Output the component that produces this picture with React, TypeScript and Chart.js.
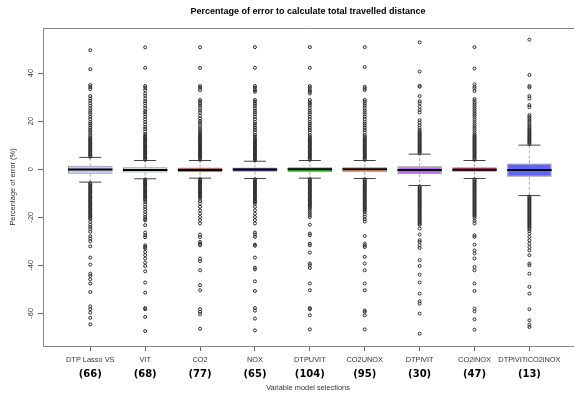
import React, { useEffect, useRef } from "react";
import { Chart, registerables } from "chart.js";

Chart.register(...registerables);

const categories = ["DTP Lasso VS", "VIT", "CO2", "NOX", "DTPUVIT", "CO2UNOX", "DTPiVIT", "CO2iNOX", "DTPiVITiCO2iNOX"];
const counts = ["(66)", "(68)", "(77)", "(65)", "(104)", "(95)", "(30)", "(47)", "(13)"];
const yTicks = [-60, -40, -20, 0, 20, 40];

const q1 = [-1.9, -1.4, -1.25, -1.1, -1.25, -1.25, -2.1, -1.1, -3.2];
const medians = [-0.1, -0.3, -0.3, -0.1, 0, 0, -0.3, -0.2, -0.4];
const q3 = [1.4, 0.8, 0.7, 0.7, 0.8, 0.8, 1.25, 0.8, 2.4];
const whiskerLow = [-5.4, -4.0, -3.75, -3.9, -3.75, -3.9, -6.8, -3.9, -11.0];
const whiskerHigh = [4.9, 3.6, 3.6, 3.3, 3.6, 3.6, 6.25, 3.6, 10.0];

const boxColors = ["#c6c6f2", "#c4e2c4", "#b31e1e", "#5a1cae", "#33cc33", "#e8a878", "#b06ef0", "#c2125e", "#6262fc"];

const outDTPLasso = [
  49.5, 41.6, 35, 34.2, 33.3, 30.4, 29.4, 28.5, 27.4, 26.4, 25.3, 24.4, 23.6, 22.8, 21.8, 20.8, 19.7, 18.9, 18.1, 17.2, 16.3, 15.6, 14.7, 13.9, 13.1,
  5.2, 5.7, 6.2, 6.7, 7.2, 7.7, 8.2, 8.7, 9.2, 9.7, 10.2, 10.7, 11.2, 11.7, 12.2, 12.7,
  -5.8, -6.3, -6.8, -7.3, -7.8, -8.3, -8.8, -9.3, -9.8, -10.3, -10.8, -11.3, -11.8, -12.3, -12.8, -13.3, -13.8, -14.3, -14.8, -15.3, -15.8, -16.3, -16.8, -17.3, -17.8, -18.3, -18.8, -19.3, -19.8, -20.3,
  -20.8, -21.9, -23.1, -24, -25, -26.1, -27.9, -28.9, -30, -32.1, -36.8, -39.7, -43.5, -44.4, -45.8, -47.6, -51.1, -57.1, -58.3, -59.7, -61.9, -64.6,
];
const outVIT = [
  50.7, 42.2, 34.6, 33.9, 32.9, 31.5, 30.6, 29.4, 28.3, 27.4, 26.4, 25.3, 24.2, 23.6, 22.8, 21.8, 20.7, 19.7, 18.6, 17.6, 16.7, 15.6, 14.6,
  3.9, 4.4, 4.9, 5.4, 5.9, 6.4, 6.9, 7.4, 7.9, 8.4, 8.9, 9.4, 9.9, 10.4, 10.9, 11.4, 11.9, 12.4, 12.9, 13.4, 13.9,
  -4.3, -4.8, -5.3, -5.8, -6.3, -6.8, -7.3, -7.8, -8.3, -8.8, -9.3, -9.8, -10.3, -10.8, -11.3, -11.8, -12.3, -12.8,
  -13.6, -14.6, -15.7, -16.7, -17.8, -18.9, -19.9, -20.8, -21.3,
  -23.3, -26.4, -27.5, -28.3, -31.7, -32.4, -33, -34.4, -35.8, -37.2, -38.9, -40.3, -42.5, -47.2, -51.4, -57.8, -58.3, -61.5, -67.4,
];
const outCO2 = [
  50.7, 42.2, 34.6, 33.9, 32.9, 28.8, 28.1, 27.2, 26.4, 25.3, 24.4, 23.6, 22.2, 21.1, 20.1, 19.4, 18.6, 17.6, 16.7, 15.8, 15,
  3.9, 4.4, 4.9, 5.4, 5.9, 6.4, 6.9, 7.4, 7.9, 8.4, 8.9, 9.4, 9.9, 10.4, 10.9, 11.4, 11.9, 12.4, 12.9, 13.4, 13.9, 14.4,
  -4.1, -4.6, -5.1, -5.6, -6.1, -6.6, -7.1, -7.6, -8.1, -8.6, -9.1, -9.6, -10.1, -10.6, -11.1, -11.6,
  -12.2, -13.3, -14.3, -15.7, -17.1, -18.5, -19.9, -21.2, -22.6,
  -27.2, -28.2, -30.3, -31, -31.7, -37.2, -38.3, -42.1, -48.3, -50.4, -58.3, -59.4, -60.4, -66.4,
];
const outNOX = [
  50.8, 42.2, 34.6, 33.9, 32.9, 32.2, 28.8, 28.1, 27.2, 26.4, 25.3, 24.4, 23.6, 22.8, 21.8, 20.8, 19.7, 18.9, 18.1, 17.2, 16.3, 15.3, 14.2, 13.5,
  3.6, 4.1, 4.6, 5.1, 5.6, 6.1, 6.6, 7.1, 7.6, 8.1, 8.6, 9.1, 9.6, 10.1, 10.6, 11.1, 11.6, 12.1, 12.6,
  -4.2, -4.7, -5.2, -5.7, -6.2, -6.7, -7.2, -7.7, -8.2, -8.7, -9.2, -9.7, -10.2, -10.7, -11.2, -11.7, -12.2, -12.7, -13.2, -13.7,
  -14.4, -15.7, -17.1, -18.5, -19.9, -21.2, -22.6,
  -26.4, -27.2, -28.2, -31.4, -31.9, -36.8, -41, -41.7, -46.7, -50.7, -57.8, -58.9, -62.2, -67.1,
];
const outDTPUVIT = [
  50.8, 42.2, 34.6, 33.9, 32.9, 32.2, 31.5, 28.8, 27.8, 27.2, 26.4, 25.3, 24.4, 23.6, 22.8, 21.8, 20.8, 19.7, 18.9, 18.1, 17.2, 16.3, 15.3, 14.2,
  3.9, 4.4, 4.9, 5.4, 5.9, 6.4, 6.9, 7.4, 7.9, 8.4, 8.9, 9.4, 9.9, 10.4, 10.9, 11.4, 11.9, 12.4, 12.9, 13.4,
  -4.1, -4.6, -5.1, -5.6, -6.1, -6.6, -7.1, -7.6, -8.1, -8.6, -9.1, -9.6, -10.1, -10.6, -11.1, -11.6, -12.1, -12.6, -13.1, -13.6, -14.1, -14.6, -15.1, -15.6, -16.1,
  -16.8, -17.6, -18.4, -19.2, -20,
  -23.1, -26.8, -27.5, -31, -31.7, -34.7, -39.3, -40, -41.1, -47.6, -50.4, -57.8, -58.3, -60.8, -66.7,
];
const outCO2UNOX = [
  50.8, 42.5, 34.3, 33.6, 32.9, 28.8, 28.1, 27.2, 26.4, 25.3, 24.4, 23.6, 22.8, 21.8, 20.8, 19.7, 18.9, 18.1, 17.2, 16.3, 15.3, 14.2,
  3.9, 4.4, 4.9, 5.4, 5.9, 6.4, 6.9, 7.4, 7.9, 8.4, 8.9, 9.4, 9.9, 10.4, 10.9, 11.4, 11.9, 12.4, 12.9, 13.4,
  -4.2, -4.7, -5.2, -5.7, -6.2, -6.7, -7.2, -7.7, -8.2, -8.7, -9.2, -9.7, -10.2, -10.7, -11.2, -11.7, -12.2, -12.7, -13.2, -13.7, -14.2, -14.7, -15.2, -15.7, -16.2, -16.7, -17.2,
  -17.8, -18.8, -19.8, -20.8, -21.8,
  -27.8, -31, -31.7, -32.4, -36.5, -39.3, -42.1, -47.6, -50.4, -58.8, -59.4, -60.8, -66.7,
];
const outDTPiVIT = [
  52.8, 40.6, 34.7, 34.3, 30.4, 28.3, 27.4, 26, 24.6, 23.6, 20.4, 19.4, 18.3, 17.2, 16.3,
  6.6, 7.1, 7.6, 8.1, 8.6, 9.1, 9.6, 10.1, 10.6, 11.1, 11.6, 12.1, 12.6, 13.1, 13.6, 14.1, 14.6, 15.1, 15.6,
  -7.2, -7.7, -8.2, -8.7, -9.2, -9.7, -10.2, -10.7, -11.2, -11.7, -12.2, -12.7, -13.2, -13.7, -14.2, -14.7, -15.2, -15.7, -16.2, -16.7, -17.2, -17.7, -18.2, -18.7, -19.2, -19.7, -20.2, -20.7, -21.2, -21.7, -22.2, -22.7, -23.2,
  -24.7, -27.2, -29.6, -30.3, -31.7, -32.8, -37.9, -40.3, -43.9, -47.2, -51.8, -55, -56, -60.1, -68.5,
];
const outCO2iNOX = [
  50.8, 41.9, 35.3, 34.3, 33.6, 32.5, 29.2, 28.5, 27.6, 26.8, 26, 25.1, 24.2, 23.3, 22.5, 21.6, 20.7, 19.8, 18.9, 18, 17.1, 16.2, 15.3, 14.5,
  3.9, 4.4, 4.9, 5.4, 5.9, 6.4, 6.9, 7.4, 7.9, 8.4, 8.9, 9.4, 9.9, 10.4, 10.9, 11.4, 11.9, 12.4, 12.9, 13.4, 13.9,
  -4.2, -4.7, -5.2, -5.7, -6.2, -6.7, -7.2, -7.7, -8.2, -8.7, -9.2, -9.7, -10.2, -10.7, -11.2, -11.7, -12.2, -12.7, -13.2, -13.7, -14.2, -14.7, -15.2, -15.7, -16.2, -16.7, -17.2, -17.7, -18.2, -18.7, -19.2, -19.7,
  -20.5, -21.5, -22.6,
  -27.5, -28.2, -31.4, -33.8, -35.1, -37.2, -40.7, -42.1, -47.6, -50.7, -58, -59.2, -62.5, -66.8,
];
const outDTPiVITiCO2iNOX = [
  53.9, 39.2, 34.6, 34, 30.4, 29.4, 26.7, 25.8, 22.5, 21.8, 21.1, 20.4, 19.7, 19, 18.3, 17.6, 17,
  10.4, 10.9, 11.4, 11.9, 12.4, 12.9, 13.4, 13.9, 14.4, 14.9, 15.4, 15.9, 16.4,
  -11.4, -11.9, -12.4, -12.9, -13.4, -13.9, -14.4, -14.9, -15.4, -15.9, -16.4, -16.9, -17.4, -17.9, -18.4, -18.9, -19.4, -19.9, -20.4, -20.9, -21.4, -21.9, -22.4, -22.9, -23.4, -23.9, -24.4, -24.9,
  -25.8, -26.8,
  -28.2, -29.6, -31, -32.4, -33.8, -35.8, -39.3, -40, -43.5, -49, -51.8, -58.3, -62.9, -64.7, -65.7,
];

const outliers = [outDTPLasso, outVIT, outCO2, outNOX, outDTPUVIT, outCO2UNOX, outDTPiVIT, outCO2iNOX, outDTPiVITiCO2iNOX];

const FONT = "'Liberation Sans', Arial, sans-serif";
const X_MIN = 0.139;
const X_MAX = 9.794;
const CAP_HALF = 0.2;
const BOX_HALF = 0.405;

export default function App() {
  const canvasRef = useRef<HTMLCanvasElement | null>(null);

  useEffect(() => {
    const canvas = canvasRef.current;
    if (!canvas) return;

    const pos = categories.map((_, i) => i + 1);
    const catTicks = (s: any) => {
      s.ticks = pos.map((v) => ({ value: v }));
    };

    const boxData = pos.map((x, i) => ({ x, y: [q1[i], q3[i]] }));
    const whiskerData: any[] = [];
    const capData: any[] = [];
    const medianData: any[] = [];
    const outlierData: any[] = [];
    pos.forEach((x, i) => {
      whiskerData.push({ x, y: q3[i] }, { x, y: whiskerHigh[i] }, { x, y: null }, { x, y: q1[i] }, { x, y: whiskerLow[i] }, { x, y: null });
      capData.push(
        { x: x - CAP_HALF, y: whiskerHigh[i] }, { x: x + CAP_HALF, y: whiskerHigh[i] }, { x, y: null },
        { x: x - CAP_HALF, y: whiskerLow[i] }, { x: x + CAP_HALF, y: whiskerLow[i] }, { x, y: null }
      );
      medianData.push({ x: x - BOX_HALF, y: medians[i] }, { x: x + BOX_HALF, y: medians[i] }, { x, y: null });
      outliers[i].forEach((v) => outlierData.push({ x, y: v }));
    });

    const chart = new Chart(canvas, {
      type: "bar",
      data: {
        datasets: [
          {
            type: "scatter",
            data: outlierData,
            pointRadius: 1.5,
            pointBorderWidth: 1,
            pointBorderColor: "#2a2a2a",
            pointBackgroundColor: "rgba(0,0,0,0)",
            order: 0,
          } as any,
          {
            type: "line",
            data: medianData,
            borderColor: "#000",
            borderWidth: 2,
            pointRadius: 0,
            spanGaps: false,
            order: 1,
          } as any,
          {
            type: "bar",
            data: boxData,
            backgroundColor: boxColors,
            borderColor: "#8a8a8a",
            borderWidth: 1,
            borderSkipped: false,
            barPercentage: 0.81,
            categoryPercentage: 1,
            order: 2,
          } as any,
          {
            type: "line",
            data: capData,
            borderColor: "#444",
            borderWidth: 1,
            pointRadius: 0,
            spanGaps: false,
            order: 3,
          } as any,
          {
            type: "line",
            data: whiskerData,
            borderColor: "#aaa",
            borderWidth: 1,
            borderDash: [3, 2],
            pointRadius: 0,
            spanGaps: false,
            order: 4,
          } as any,
        ],
      },
      options: {
        responsive: false,
        animation: false,
        devicePixelRatio: 1,
        layout: { padding: 0 },
        plugins: { legend: { display: false }, tooltip: { enabled: false }, title: { display: false } },
        scales: {
          x: {
            type: "linear",
            position: "bottom",
            offset: false,
            min: X_MIN,
            max: X_MAX,
            afterBuildTicks: catTicks,
            afterFit: (s: any) => { s.height = 20; },
            ticks: {
              callback: (v: any) => categories[Math.round(v) - 1] ?? "",
              font: { family: FONT, size: 7.4 },
              color: "#333",
              padding: 5,
              maxRotation: 0,
              minRotation: 0,
              autoSkip: false,
            },
            grid: { drawOnChartArea: false, drawTicks: true, tickLength: 5, color: "#666", offset: false },
            border: { display: true, color: "#888" },
          },
          x2: {
            type: "linear",
            position: "bottom",
            axis: "x",
            offset: false,
            min: X_MIN,
            max: X_MAX,
            afterBuildTicks: catTicks,
            afterFit: (s: any) => { s.height = 30; },
            ticks: {
              callback: (v: any) => counts[Math.round(v) - 1] ?? "",
              font: { family: "'DejaVu Sans', sans-serif", size: 10, weight: "bold" },
              color: "#000",
              padding: 2,
              maxRotation: 0,
              minRotation: 0,
              autoSkip: false,
            },
            grid: { display: false, drawTicks: false, offset: false },
            border: { display: false },
            title: {
              display: true,
              text: "Variable model selections",
              font: { family: FONT, size: 7.4 },
              color: "#333",
              padding: { top: 0, bottom: 3.6 },
            },
          },
          x3: {
            type: "linear",
            position: "top",
            axis: "x",
            offset: false,
            min: X_MIN,
            max: X_MAX,
            afterFit: (s: any) => { s.height = 28; },
            ticks: { display: false },
            grid: { display: false, drawTicks: false, offset: false },
            border: { display: true, color: "#888" },
            title: {
              display: true,
              text: "Percentage of error to calculate total travelled distance",
              font: { family: FONT, size: 9, weight: "bold" },
              color: "#000",
              padding: { top: 6.6, bottom: 0 },
            },
          },
          y: {
            type: "linear",
            position: "left",
            min: -73.6,
            max: 58.75,
            afterBuildTicks: (s: any) => { s.ticks = yTicks.map((v) => ({ value: v })); },
            afterFit: (s: any) => { s.width = 43; },
            ticks: {
              font: { family: FONT, size: 7.4 },
              color: "#333",
              padding: 2,
              minRotation: 90,
              maxRotation: 90,
              crossAlign: "center",
              autoSkip: false,
            },
            grid: { drawOnChartArea: false, drawTicks: true, tickLength: 5, color: "#666" },
            border: { display: true, color: "#888" },
            title: {
              display: true,
              text: "Percentage of error (%)",
              font: { family: FONT, size: 7.4 },
              color: "#333",
              padding: { top: 8.3, bottom: 0 },
            },
          },
        },
      } as any,
    });

    return () => chart.destroy();
  }, []);

  return (
    <div style={{ position: "fixed", left: 0, top: 0, width: 578, height: 396, background: "#fff" }}>
      <canvas ref={canvasRef} width={578} height={396} style={{ display: "block", width: 578, height: 396 }} />
    </div>
  );
}
